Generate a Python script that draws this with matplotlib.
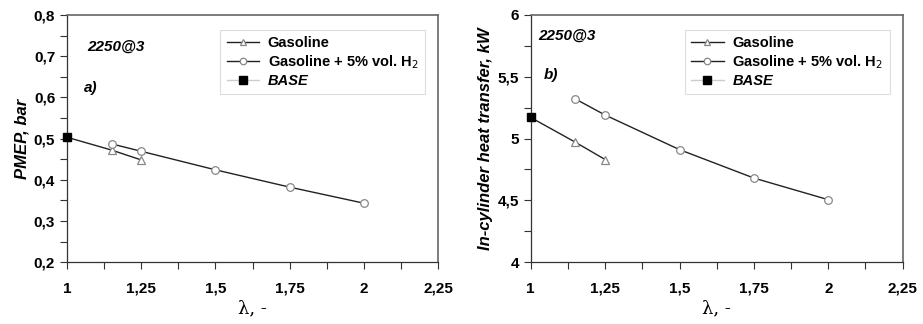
import matplotlib
matplotlib.use('Agg')
import matplotlib.pyplot as plt
from matplotlib.ticker import MultipleLocator, FuncFormatter

plt.rcParams['font.family'] = ['Liberation Sans', 'DejaVu Sans']

# lambda values
lam_gas = [1.0, 1.15, 1.25]
lam_h2 = [1.15, 1.25, 1.5, 1.75, 2.0]
lam_base = [1.0]

# panel a) PMEP, bar
pmep_gas = [0.503, 0.472, 0.448]
pmep_h2 = [0.487, 0.469, 0.424, 0.382, 0.343]
pmep_base = [0.503]

# panel b) in-cylinder heat transfer, kW
ht_gas = [5.17, 4.97, 4.83]
ht_h2 = [5.32, 5.19, 4.91, 4.68, 4.505]
ht_base = [5.17]

LINE = '#222222'
MARK = '#888888'


def comma(v, pos):
    s = ('%.2f' % v).rstrip('0').rstrip('.')
    return s.replace('.', ',')


fig = plt.figure(figsize=(9.23, 3.24), dpi=100)
ax1 = fig.add_axes([0.0726, 0.191, 0.402, 0.763])
ax2 = fig.add_axes([0.575, 0.191, 0.403, 0.763])

panels = [
    (ax1, pmep_gas, pmep_h2, pmep_base, (0.2, 0.8), 0.1, 0.05,
     'PMEP, bar', 'a)', (0.055, 0.855), (0.045, 0.69)),
    (ax2, ht_gas, ht_h2, ht_base, (4.0, 6.0), 0.5, 0.25,
     'In-cylinder heat transfer, kW', 'b)', (0.02, 0.9), (0.035, 0.74)),
]

for ax, g, h, b, ylim, ymaj, ymin, ylab, tag, pos1, pos2 in panels:
    ax.plot(lam_gas, g, color=LINE, lw=1.0, marker='^', ms=5.5,
            mfc='white', mec=MARK, mew=0.9, label='Gasoline', zorder=3)
    ax.plot(lam_h2, h, color=LINE, lw=1.0, marker='o', ms=5.5,
            mfc='white', mec=MARK, mew=0.9,
            label='Gasoline + 5% vol. H$_2$', zorder=3)
    ax.plot(lam_base, b, color='#cccccc', lw=1.0, marker='s', ms=6,
            mfc='black', mec='black', label='BASE', zorder=4,
            clip_on=False)
    ax.set_xlim(1, 2.25)
    ax.set_ylim(*ylim)
    ax.xaxis.set_major_locator(MultipleLocator(0.25))
    ax.xaxis.set_minor_locator(MultipleLocator(0.125))
    ax.yaxis.set_major_locator(MultipleLocator(ymaj))
    ax.yaxis.set_minor_locator(MultipleLocator(ymin))
    ax.xaxis.set_major_formatter(FuncFormatter(comma))
    ax.yaxis.set_major_formatter(FuncFormatter(comma))
    ax.tick_params(which='both', direction='out', color='#333333', width=0.8)
    ax.tick_params(which='major', length=5, labelsize=11)
    ax.tick_params(which='minor', length=5)
    ax.tick_params(axis='x', pad=9)
    for lab in ax.get_xticklabels() + ax.get_yticklabels():
        lab.set_fontweight('bold')
    for side in ['left', 'bottom']:
        ax.spines[side].set_color('#333333')
        ax.spines[side].set_linewidth(0.9)
    for side in ['top', 'right']:
        ax.spines[side].set_color('#666666')
        ax.spines[side].set_linewidth(1.2)
    ax.set_xlabel('λ, -', fontsize=13, family='DejaVu Serif', labelpad=3)
    ax.set_ylabel(ylab, fontsize=12, fontweight='bold', style='italic',
                  labelpad=3)
    ax.text(pos1[0], pos1[1], '2250@3', transform=ax.transAxes,
            fontsize=11, fontweight='bold', style='italic')
    ax.text(pos2[0], pos2[1], tag, transform=ax.transAxes,
            fontsize=11, fontweight='bold', style='italic')
    leg = ax.legend(loc='upper right', bbox_to_anchor=(0.985, 0.97),
                    fontsize=10.5, frameon=True, fancybox=False,
                    handlelength=2.2, handletextpad=0.6, borderpad=0.45,
                    labelspacing=0.2, edgecolor='#dddddd', framealpha=1,
                    markerscale=0.85)
    leg.get_frame().set_linewidth(0.8)
    for t in leg.get_texts():
        t.set_fontweight('bold')
    leg.get_texts()[2].set_style('italic')

fig.savefig('out.png', dpi=100, facecolor='white')
